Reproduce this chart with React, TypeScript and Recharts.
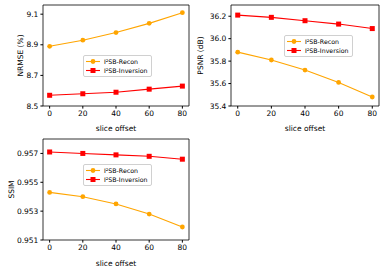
import React from "react";
import { Legend, Line, LineChart, ReferenceArea, XAxis, YAxis } from "recharts";

const offsets = [0, 20, 40, 60, 80];
const nrmseRecon = [8.89, 8.93, 8.98, 9.04, 9.11];
const nrmseInversion = [8.57, 8.58, 8.59, 8.61, 8.63];
const psnrRecon = [35.88, 35.81, 35.72, 35.61, 35.48];
const psnrInversion = [36.21, 36.19, 36.16, 36.13, 36.09];
const ssimRecon = [0.9543, 0.954, 0.9535, 0.9528, 0.9519];
const ssimInversion = [0.9571, 0.957, 0.9569, 0.9568, 0.9566];
const xTicks = [0, 20, 40, 60, 80];

const FONT = "'DejaVu Sans', sans-serif";
const ORANGE = "#FFA500";
const RED = "#FF0000";

const Square = (props: any) => {
  const { cx, cy } = props;
  if (cx == null || cy == null) return null;
  return <rect x={cx - 2.5} y={cy - 2.5} width={5} height={5} fill={RED} />;
};

const LegendBox = () => (
  <div
    style={{
      border: "0.8px solid #d0d0d0",
      borderRadius: 2,
      background: "rgba(255,255,255,0.8)",
      padding: "1px 3px 1px 2px",
      fontFamily: FONT,
      fontSize: 6.25,
      lineHeight: "9px",
      whiteSpace: "nowrap",
    }}
  >
    <div style={{ display: "flex", alignItems: "center" }}>
      <svg width={14} height={9} style={{ marginRight: 4 }}>
        <line x1={0} y1={4.5} x2={14} y2={4.5} stroke={ORANGE} strokeWidth={1.1} />
        <circle cx={7} cy={4.5} r={2.4} fill={ORANGE} />
      </svg>
      <span>I²SB-Recon</span>
    </div>
    <div style={{ display: "flex", alignItems: "center" }}>
      <svg width={14} height={9} style={{ marginRight: 4 }}>
        <line x1={0} y1={4.5} x2={14} y2={4.5} stroke={RED} strokeWidth={1.1} />
        <rect x={4.5} y={2} width={5} height={5} fill={RED} />
      </svg>
      <span>I²SB-Inversion</span>
    </div>
  </div>
);

type PanelProps = {
  left: number;
  top: number;
  width: number;
  height: number;
  margin: { top: number; right: number; bottom: number; left: number };
  yWidth: number;
  xHeight: number;
  recon: number[];
  inversion: number[];
  domain: [number, number];
  ticks: number[];
  digits: number;
  ylabel: string;
  ylabelX: number;
  legendLeft: number;
  legendTop: number;
};

const Panel = (p: PanelProps) => {
  const data = offsets.map((o, i) => ({ offset: o, recon: p.recon[i], inversion: p.inversion[i] }));
  const tick = { fontSize: 7.5, fill: "#000", fontFamily: FONT };
  return (
    <div style={{ position: "absolute", left: p.left, top: p.top }}>
      <LineChart width={p.width} height={p.height} data={data} margin={p.margin}>
        <XAxis
          dataKey="offset"
          type="number"
          domain={[-4, 84]}
          ticks={xTicks}
          tick={tick}
          tickSize={2.6}
          tickMargin={2}
          height={p.xHeight}
          axisLine={false}
          stroke="#000"
          label={{ value: "slice offset", position: "insideBottom", offset: 4, fontSize: 7.5, fill: "#000", fontFamily: FONT }}
        />
        <YAxis
          type="number"
          domain={p.domain}
          ticks={p.ticks}
          allowDataOverflow
          tick={tick}
          tickSize={2.6}
          tickMargin={2}
          width={p.yWidth}
          axisLine={false}
          stroke="#000"
          tickFormatter={(v: number) => v.toFixed(p.digits)}
          label={(props: any) => {
            const vb = props.viewBox || {};
            const cy = (vb.y ?? 0) + (vb.height ?? 0) / 2;
            return (
              <text
                x={p.ylabelX}
                y={cy}
                transform={`rotate(-90 ${p.ylabelX} ${cy})`}
                textAnchor="middle"
                dominantBaseline="central"
                fontSize={7.5}
                fontFamily={FONT}
                fill="#000"
              >
                {p.ylabel}
              </text>
            );
          }}
        />
        <ReferenceArea x1={-4} x2={84} y1={p.domain[0]} y2={p.domain[1]} fill="none" stroke="#000" strokeWidth={0.8} ifOverflow="visible" />
        <Line dataKey="recon" stroke={ORANGE} strokeWidth={1.1} dot={{ r: 2.4, fill: ORANGE, stroke: ORANGE, strokeWidth: 0 }} isAnimationActive={false} />
        <Line dataKey="inversion" stroke={RED} strokeWidth={1.1} dot={<Square />} isAnimationActive={false} />
        <Legend
          layout="vertical"
          align="center"
          verticalAlign="middle"
          content={() => <LegendBox />}
          wrapperStyle={{ left: p.legendLeft, top: p.legendTop, width: "auto" }}
        />
      </LineChart>
    </div>
  );
};

export default function App() {
  return (
    <div style={{ position: "absolute", left: 0, top: 0, width: 381, height: 270, background: "#fff", fontFamily: FONT }}>
      <Panel
        left={0}
        top={0}
        width={195}
        height={135}
        margin={{ top: 5, right: 6, bottom: 0, left: 0 }}
        yWidth={43}
        xHeight={29}
        recon={nrmseRecon}
        inversion={nrmseInversion}
        domain={[8.5, 9.16]}
        ticks={[8.5, 8.7, 8.9, 9.1]}
        digits={1}
        ylabel="NRMSE (%)"
        ylabelX={20}
        legendLeft={83}
        legendTop={55}
      />
      <Panel
        left={190}
        top={0}
        width={191}
        height={135}
        margin={{ top: 5, right: 2, bottom: 0, left: 0 }}
        yWidth={41}
        xHeight={29}
        recon={psnrRecon}
        inversion={psnrInversion}
        domain={[35.4, 36.3]}
        ticks={[35.4, 35.6, 35.8, 36.0, 36.2]}
        digits={1}
        ylabel="PSNR (dB)"
        ylabelX={10.5}
        legendLeft={94}
        legendTop={35}
      />
      <Panel
        left={0}
        top={135}
        width={195}
        height={135}
        margin={{ top: 4, right: 6, bottom: 0, left: 0 }}
        yWidth={43}
        xHeight={30}
        recon={ssimRecon}
        inversion={ssimInversion}
        domain={[0.951, 0.958]}
        ticks={[0.951, 0.953, 0.955, 0.957]}
        digits={3}
        ylabel="SSIM"
        ylabelX={11}
        legendLeft={83}
        legendTop={29}
      />
    </div>
  );
}
